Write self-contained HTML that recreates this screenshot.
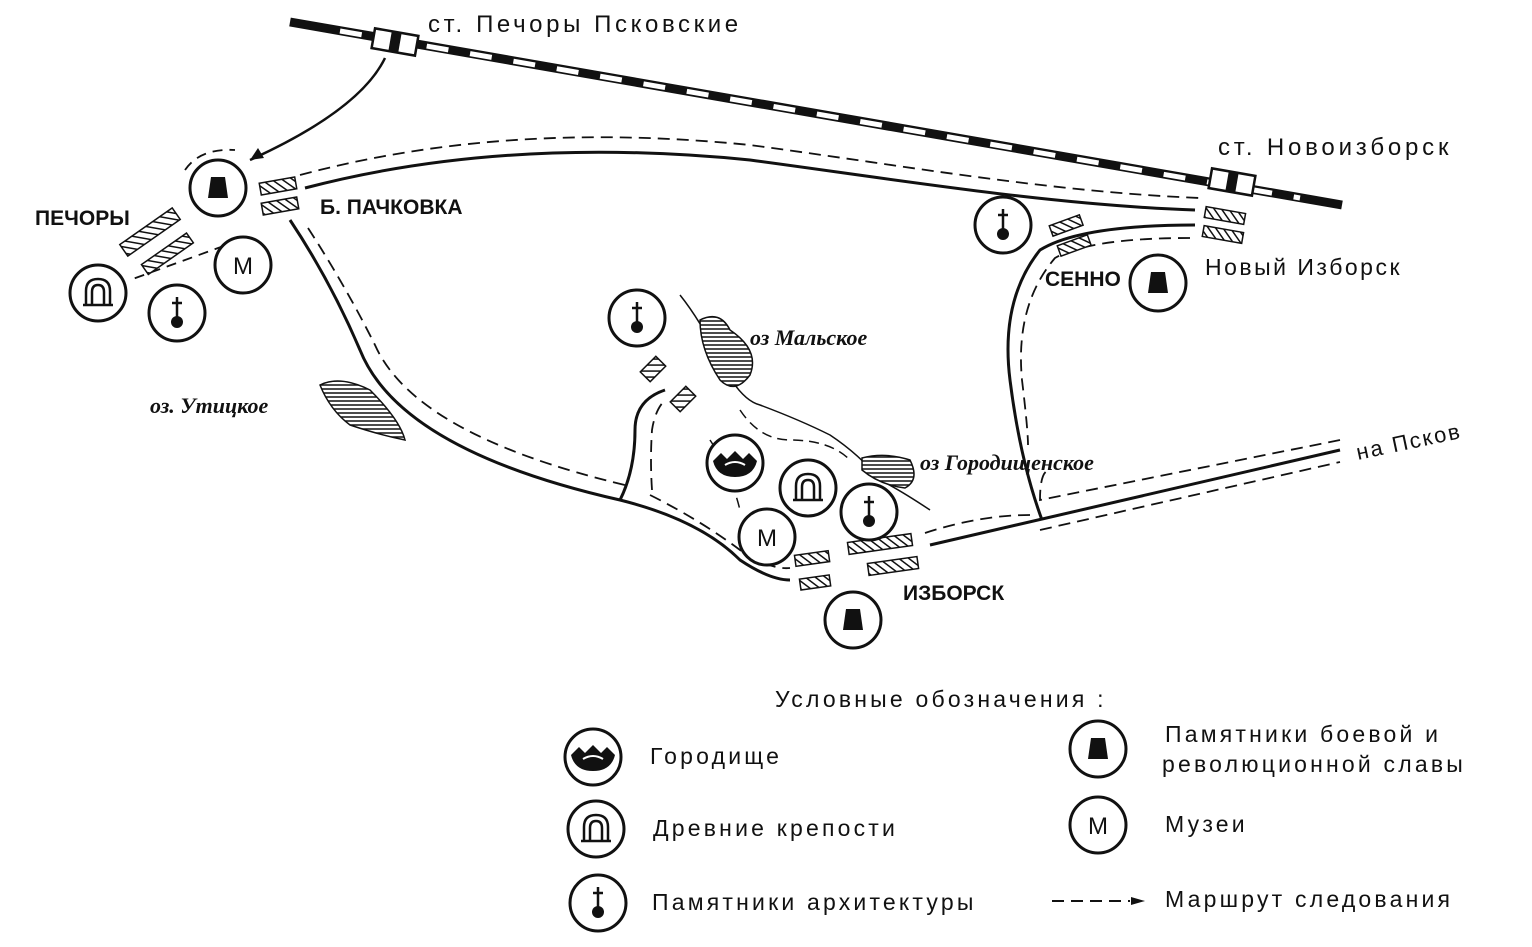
<!DOCTYPE html>
<html><head><meta charset="utf-8"><style>
body{margin:0;background:#fff}
svg{display:block}
text{font-family:"Liberation Sans",sans-serif;fill:#111}
.b{font-weight:bold;font-size:21px;font-stretch:condensed}
.it{font-family:"Liberation Serif",serif;font-style:italic;font-weight:bold;font-size:22px}
.l{font-size:23px;letter-spacing:3.2px}
</style></head><body>
<svg width="1532" height="947" viewBox="0 0 1532 947" xmlns="http://www.w3.org/2000/svg">
<defs>
<pattern id="h" width="6" height="6" patternUnits="userSpaceOnUse" patternTransform="rotate(-45)"><rect width="6" height="6" fill="#fff"/><line x1="0" y1="0" x2="0" y2="6" stroke="#111" stroke-width="3"/></pattern>
<pattern id="hz" width="6" height="4" patternUnits="userSpaceOnUse"><rect width="6" height="4" fill="#fff"/><line x1="0" y1="1" x2="6" y2="1" stroke="#111" stroke-width="1.5"/></pattern>
<g id="mon"><circle r="28" fill="#fff" stroke="#111" stroke-width="3"/><path d="M-7,-11 L7,-11 L10,10 L-10,10Z" fill="#111"/></g>
<g id="ch"><circle r="28" fill="#fff" stroke="#111" stroke-width="3"/><line x1="0" y1="-16" x2="0" y2="4" stroke="#111" stroke-width="2.5"/><line x1="-5" y1="-10" x2="5" y2="-10" stroke="#111" stroke-width="2.5"/><circle cy="9" r="6" fill="#111"/></g>
<g id="mus"><circle r="28" fill="#fff" stroke="#111" stroke-width="3"/><text x="0" y="9" text-anchor="middle" font-size="24">М</text></g>
<g id="fort"><circle r="28" fill="#fff" stroke="#111" stroke-width="3"/><path d="M-12,12 L-12,-2 Q-12,-14 0,-14 Q12,-14 12,-2 L12,12 M-6,12 L-6,-1 Q-6,-8 0,-8 Q6,-8 6,-1 L6,12 M-15,12 L15,12" fill="none" stroke="#111" stroke-width="2.5"/></g>
<g id="gor"><circle r="28" fill="#fff" stroke="#111" stroke-width="3"/><path d="M-22,-2 L-14,-10 L-8,-4 L0,-12 L8,-4 L14,-10 L22,-2 Q18,14 0,14 Q-18,14 -22,-2Z" fill="#111"/><path d="M-10,2 Q0,-4 10,2" stroke="#fff" stroke-width="2" fill="none"/></g>
</defs>
<line x1="290" y1="22" x2="1342" y2="205" stroke="#111" stroke-width="9"/>
<line x1="340" y1="31" x2="1300" y2="198" stroke="#fff" stroke-width="5" stroke-dasharray="22 22"/>
<g transform="translate(395,42) rotate(9.9)"><rect x="-22" y="-10" width="44" height="20" fill="#fff" stroke="#111" stroke-width="2.5"/><rect x="-5" y="-10" width="10" height="20" fill="#111"/></g>
<g transform="translate(1232,182) rotate(9.9)"><rect x="-22" y="-10" width="44" height="20" fill="#fff" stroke="#111" stroke-width="2.5"/><rect x="-5" y="-10" width="10" height="20" fill="#111"/></g>
<text x="428" y="32" font-size="24" letter-spacing="3.6">ст. Печоры Псковские</text>
<text x="1218" y="155" font-size="24" letter-spacing="3.8">ст. Новоизборск</text>
<path d="M385,58 Q360,110 250,160" fill="none" stroke="#111" stroke-width="2.5"/>
<path d="M250,160 l14,-2 l-6,-10z" fill="#111"/>
<g fill="none" stroke="#111">
<path d="M305,188 C450,150 600,145 750,160 C900,180 1050,205 1195,210" stroke-width="3"/>
<path d="M300,175 C450,135 600,130 750,145 C900,165 1050,192 1200,198" stroke-width="1.8" stroke-dasharray="12 7"/>
<path d="M290,220 Q330,280 360,350 Q400,450 620,500 Q700,520 740,560 Q770,580 790,580" stroke-width="3"/>
<path d="M308,228 Q345,285 375,345 Q415,435 625,485" stroke-width="1.8" stroke-dasharray="12 7"/>
<path d="M650,495 Q700,520 740,550 Q770,570 790,568" stroke-width="1.8" stroke-dasharray="12 7"/>
<path d="M620,500 Q635,470 635,430 Q635,400 665,390" stroke-width="3"/>
<path d="M652,490 Q650,460 652,430 Q655,410 665,400" stroke-width="1.8" stroke-dasharray="12 7"/>
<path d="M930,545 L1340,450" stroke-width="3"/>
<path d="M925,533 Q980,515 1030,515" stroke-width="1.8" stroke-dasharray="12 7"/>
<path d="M1040,530 L1340,462" stroke-width="1.8" stroke-dasharray="12 7"/>
<path d="M1340,440 L1040,500 Q1040,470 1050,470" stroke-width="1.8" stroke-dasharray="12 7"/>
<path d="M1195,225 Q1080,225 1040,250 Q1000,300 1010,380 Q1020,460 1042,520" stroke-width="3"/>
<path d="M1190,238 Q1090,238 1055,258 Q1015,305 1022,380 Q1028,430 1028,445" stroke-width="1.8" stroke-dasharray="12 7"/>
<path d="M185,170 Q200,148 235,150 M240,240 L130,280" stroke-width="1.8" stroke-dasharray="10 7"/>
<path d="M680,295 Q700,320 720,360 Q740,400 760,405 Q800,420 830,435 Q860,455 880,480 Q900,490 930,510" stroke-width="1.5"/>
<path d="M740,410 Q760,440 790,440 Q830,440 850,460" stroke-width="1.5" stroke-dasharray="10 6"/>
<path d="M710,440 Q730,470 740,510" stroke-width="1.5" stroke-dasharray="10 6"/>
</g>
<path d="M320,385 Q340,375 370,390 Q400,420 405,440 Q380,435 350,425 Q330,410 320,385Z" fill="url(#hz)" stroke="#111" stroke-width="1.5"/>
<path d="M700,320 Q720,310 730,330 Q760,350 750,375 Q735,395 720,380 Q700,350 700,320Z" fill="url(#hz)" stroke="#111" stroke-width="1.5"/>
<path d="M862,458 Q885,452 910,460 Q920,480 905,488 Q880,485 862,470Z" fill="url(#hz)" stroke="#111" stroke-width="1.5"/>
<g fill="url(#h)" stroke="#111" stroke-width="1.5">
<rect x="260" y="180" width="36" height="12" transform="rotate(-10 278 186)"/>
<rect x="262" y="200" width="36" height="12" transform="rotate(-10 280 206)"/>
<rect x="118" y="225" width="64" height="14" transform="rotate(-35 150 232)"/>
<rect x="140" y="248" width="55" height="12" transform="rotate(-35 167 254)"/>
<rect x="1050" y="220" width="32" height="11" transform="rotate(-20 1066 225)"/>
<rect x="1058" y="240" width="32" height="11" transform="rotate(-20 1074 245)"/>
<rect x="1205" y="210" width="40" height="11" transform="rotate(10 1225 215)"/>
<rect x="1203" y="229" width="40" height="11" transform="rotate(10 1223 234)"/>
<rect x="642" y="362" width="22" height="14" transform="rotate(-45 653 369)"/>
<rect x="672" y="392" width="22" height="14" transform="rotate(-45 683 399)"/>
<rect x="848" y="538" width="64" height="12" transform="rotate(-8 880 544)"/>
<rect x="868" y="560" width="50" height="12" transform="rotate(-8 893 566)"/>
<rect x="795" y="553" width="34" height="11" transform="rotate(-8 812 558)"/>
<rect x="800" y="577" width="30" height="11" transform="rotate(-8 815 582)"/>
</g>
<use href="#mon" x="218" y="188"/><use href="#mus" x="243" y="265"/><use href="#fort" x="98" y="293"/><use href="#ch" x="177" y="313"/>
<use href="#ch" x="1003" y="225"/><use href="#mon" x="1158" y="283"/>
<use href="#ch" x="637" y="318"/><use href="#gor" x="735" y="463"/><use href="#fort" x="808" y="488"/><use href="#ch" x="869" y="512"/><use href="#mus" x="767" y="537"/><use href="#mon" x="853" y="620"/>
<text class="b" x="35" y="225">ПЕЧОРЫ</text>
<text class="b" x="320" y="214">Б. ПАЧКОВКА</text>
<text class="b" x="1045" y="286">СЕННО</text>
<text class="b" x="903" y="600">ИЗБОРСК</text>
<text x="1205" y="275" font-size="23" letter-spacing="2.5">Новый Изборск</text>
<text class="it" x="150" y="413">оз. Утицкое</text>
<text class="it" x="750" y="345">оз Мальское</text>
<text class="it" x="920" y="470">оз Городищенское</text>
<text x="1358" y="460" font-size="22" letter-spacing="2" transform="rotate(-12 1358 460)">на Псков</text>
<text class="l" x="775" y="707">Условные обозначения :</text>
<use href="#gor" x="593" y="757"/><text class="l" x="650" y="764">Городище</text>
<use href="#fort" x="596" y="829"/><text class="l" x="653" y="836">Древние крепости</text>
<use href="#ch" x="598" y="903"/><text class="l" x="652" y="910">Памятники архитектуры</text>
<use href="#mon" x="1098" y="749"/><text class="l" x="1165" y="742">Памятники боевой и</text><text class="l" x="1162" y="772">революционной славы</text>
<use href="#mus" x="1098" y="825"/><text class="l" x="1165" y="832">Музеи</text>
<line x1="1052" y1="901" x2="1130" y2="901" stroke="#111" stroke-width="2" stroke-dasharray="12 7"/><path d="M1145,901 l-14,-4 l0,8z" fill="#111"/>
<text class="l" x="1165" y="907">Маршрут следования</text>
</svg>
</body></html>
